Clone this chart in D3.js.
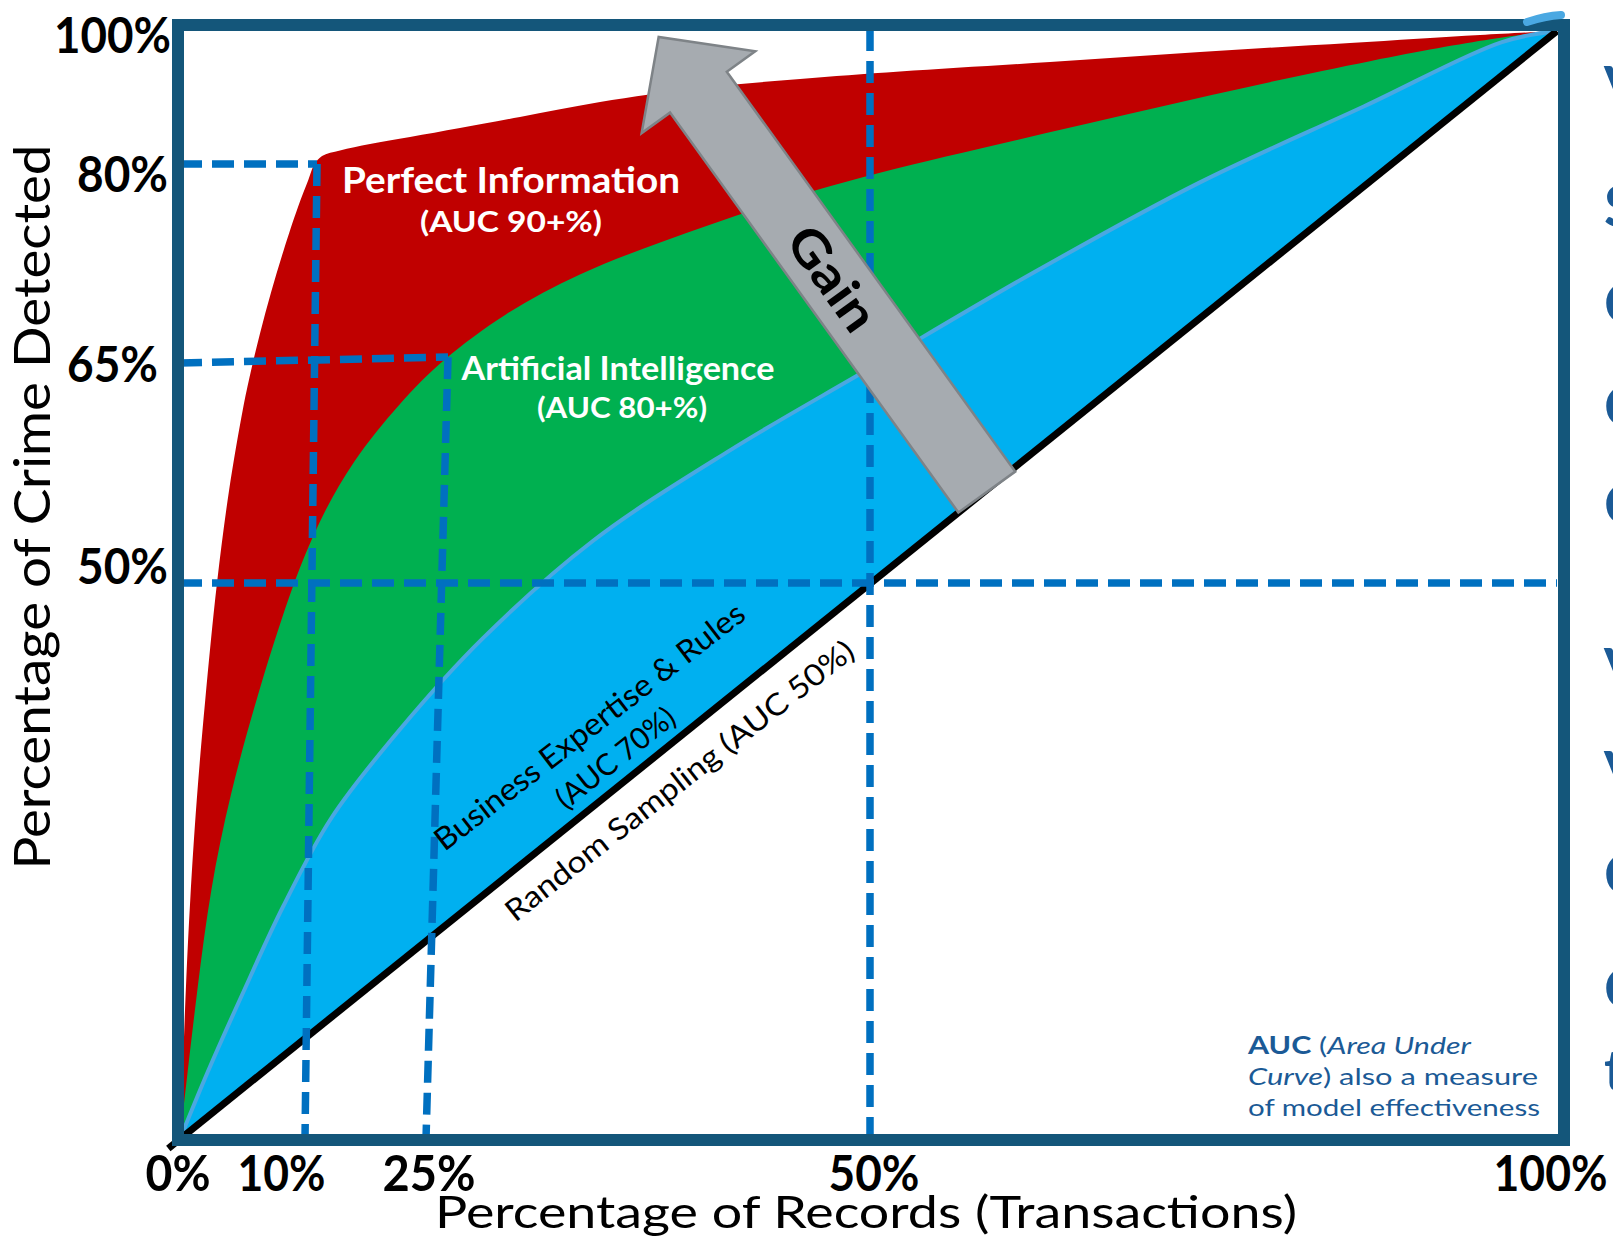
<!DOCTYPE html>
<html>
<head>
<meta charset="utf-8">
<script src="https://cdn.jsdelivr.net/npm/d3@7"></script>
<style>
  html, body { margin: 0; padding: 0; background: #ffffff; }
  svg { display: block; }
  text { font-family: Lato, "Noto Sans", sans-serif; }
</style>
</head>
<body>
<svg id="chart" width="1613" height="1239"></svg>
<script>
// ---------------------------------------------------------------
// Data (all values in percent)
// ---------------------------------------------------------------
const xTicks = [0, 10, 25, 50, 100];   // share of records reviewed
const yTicks = [50, 65, 80, 100];      // share of crime detected

// Cumulative gain curves: [records %, crime detected %]
const perfectInformation = [
  [0, 0], [0.25, 7.1], [0.5, 14.3], [0.82, 21.49], [1.34, 30.49], [2.02, 39.48],
  [2.96, 50], [3.93, 56.34], [5.02, 61.8], [5.64, 64.32], [6.41, 67.26],
  [7.27, 70.28], [8.3, 73.52], [9.44, 76.76], [10.41, 78.79], [11.12, 79.92],
  [12.11, 81.2], [14.34, 82.03], [18.06, 83.01], [23.02, 84.06], [26.91, 85.41],
  [30.29, 87.07], [34.8, 89.32], [40.43, 91.43], [46.06, 92.78], [52.18, 93.91],
  [63.1, 95.34], [74.02, 96.84], [84.93, 98.2], [94.4, 99.4], [100, 100]
];
const artificialIntelligence = [
  [0, 0], [0.55, 5.48], [1.43, 13.95], [2.42, 22.42], [3.97, 30.89], [6.17, 39.86],
  [8.82, 49.33], [11.57, 54.09], [15.84, 58.32], [21.81, 62.33], [25.88, 65.22],
  [29.37, 68.73], [33.63, 71.82], [38.29, 74.16], [43.71, 76.74], [49.92, 79.25],
  [62.92, 84.66], [74.95, 90.5], [86.97, 95.83], [95.99, 99.17], [100, 100]
];
const businessRules = [
  [0, 0], [2.2, 5.98], [4.96, 12.95], [8.26, 20.93], [13.29, 28.89],
  [21.81, 36.87], [28.21, 45.04], [34.41, 52.88], [42.16, 59.08],
  [49.92, 64.59], [61.91, 71.82], [73.94, 78.58], [85.97, 88.68],
  [95.99, 98.33], [100, 100]
];
const randomSampling = [[0, 0], [100, 100]];

// Dashed read-off lines: [records %, crime %] end points
const cutoffLines = [
  { from: [0, 80],        to: [11.49, 80] },
  { from: [11.49, 80],    to: [10, 0] },
  { from: [0, 65],        to: [26.24, 65.45] },
  { from: [26.24, 65.45], to: [25, 0] },
  { from: [0, 50],        to: [100, 50] },
  { from: [50, 0],        to: [50, 100] }
];

// "Gain" arrow, tail to tip
const gainArrow = { from: [58.5, 56.2], to: [38.1, 99.1] };

// Text content
const regionLabels = [
  { key: "perfect", lines: ["Perfect Information", "(AUC 90+%)"] },
  { key: "ai",      lines: ["Artificial Intelligence", "(AUC 80+%)"] }
];
const businessLabel = ["Business Expertise & Rules", "(AUC 70%)"];
const randomLabel = "Random Sampling (AUC 50%)";
const gainLabel = "Gain";
const xTitle = "Percentage of Records (Transactions)";
const yTitle = "Percentage of Crime Detected";
const sideLetters = ["V", "S", "C", "C", "C", "V", "V", "C", "C", "t"];

// ---------------------------------------------------------------
// Layout and style
// ---------------------------------------------------------------
const xStops = [180, 305, 426, 870, 1557];       // pixel stops for xTicks
const yStops = [1139, 583, 363, 164, 31];        // pixel stops for 0 + yTicks
const frame = { left: 178, top: 25, right: 1564, bottom: 1140 };
const colors = {
  frame: "#14567A", red: "#C00000", green: "#00B050", blue: "#00B0F0",
  blueEdge: "#4AA8E2", guide: "#0070C0", arrowFill: "#A6ABB0",
  arrowStroke: "#7E8387", note: "#1B5A96"
};
const xLabelStyle = {
  baseline: 1191,
  dx: { 0: -2.5, 10: -24, 25: 2.5, 50: 3.5, 100: -7 },
  len: { 0: 65, 10: 88, 25: 93, 50: 91, 100: 114 }
};
const yLabelStyle = {
  right: { 100: 171, 80: 168, 65: 158, 50: 168 },
  dy:    { 100: 21, 80: 27, 65: 18, 50: 0 },
  len:   { 100: 117, 80: 91, 65: 91, 50: 91 }
};

// ---------------------------------------------------------------
// Scales (piecewise linear so every labelled stop sits on its guide)
// ---------------------------------------------------------------
const x = d3.scaleLinear().domain(xTicks).range(xStops);
const y = d3.scaleLinear().domain([0, ...yTicks]).range(yStops);

const svg = d3.select("#chart");
svg.append("rect").attr("width", 1613).attr("height", 1239).attr("fill", "#fff");

const lineWith = curve => d3.line()
  .x(d => x(d[0]))
  .y(d => y(d[1]))
  .curve(curve);
const throughPoints = lineWith(d3.curveCatmullRom.alpha(0.5));
const smoothed = lineWith(d3.curveBasis);

// Filled regions: each curve closed back along the straight random-sampling diagonal
const regions = [
  { data: perfectInformation, fill: colors.red, gen: throughPoints },
  { data: artificialIntelligence, fill: colors.green, gen: smoothed },
  { data: businessRules, fill: colors.blue, gen: throughPoints }
];
svg.append("g").selectAll("path")
  .data(regions)
  .join("path")
  .attr("d", d => d.gen(d.data) + "Z")
  .attr("fill", d => d.fill);

// Light edge on the business-rules curve
svg.append("path")
  .attr("d", throughPoints(businessRules))
  .attr("fill", "none")
  .attr("stroke", colors.blueEdge)
  .attr("stroke-width", 4);

// Random sampling diagonal (slightly overrunning the origin corner)
const diag = randomSampling.map(d => [x(d[0]), y(d[1])]);
{
  const dx = diag[1][0] - diag[0][0], dy = diag[1][1] - diag[0][1];
  const L = Math.hypot(dx, dy);
  diag[0] = [diag[0][0] - dx / L * 15, diag[0][1] - dy / L * 15];
}
svg.append("path")
  .attr("d", d3.line()(diag))
  .attr("stroke", "#000")
  .attr("stroke-width", 7)
  .attr("fill", "none");

// Dashed read-off lines
svg.append("g").selectAll("line")
  .data(cutoffLines)
  .join("line")
  .attr("x1", d => x(d.from[0])).attr("y1", d => y(d.from[1]))
  .attr("x2", d => x(d.to[0])).attr("y2", d => y(d.to[1]))
  .attr("stroke", colors.guide)
  .attr("stroke-width", 7.5)
  .attr("stroke-dasharray", "22 10");

// Plot frame
svg.append("rect")
  .attr("x", frame.left).attr("y", frame.top)
  .attr("width", frame.right - frame.left)
  .attr("height", frame.bottom - frame.top)
  .attr("fill", "none")
  .attr("stroke", colors.frame)
  .attr("stroke-width", 12);

// Brush-like overrun of the curve edge past the top-right corner
{
  const cx = x(100), cy = y(100);
  svg.append("path")
    .attr("d", `M${cx - 30},${cy - 9}Q${cx - 12},${cy - 15} ${cx + 4},${cy - 16}`)
    .attr("fill", "none")
    .attr("stroke", colors.blueEdge)
    .attr("stroke-width", 8)
    .attr("stroke-linecap", "round");
}

// Gain arrow
const tail = [x(gainArrow.from[0]), y(gainArrow.from[1])];
const tip = [x(gainArrow.to[0]), y(gainArrow.to[1])];
function arrowPath(p0, p1, shaftHalf, headHalf, headLen) {
  const dx = p1[0] - p0[0], dy = p1[1] - p0[1], L = Math.hypot(dx, dy);
  const ux = dx / L, uy = dy / L, nx = -uy, ny = ux;
  const b = [p1[0] - ux * headLen, p1[1] - uy * headLen];
  const pts = [
    [p0[0] + nx * shaftHalf, p0[1] + ny * shaftHalf],
    [b[0] + nx * shaftHalf, b[1] + ny * shaftHalf],
    [b[0] + nx * headHalf, b[1] + ny * headHalf],
    p1,
    [b[0] - nx * headHalf, b[1] - ny * headHalf],
    [b[0] - nx * shaftHalf, b[1] - ny * shaftHalf],
    [p0[0] - nx * shaftHalf, p0[1] - ny * shaftHalf]
  ];
  return "M" + pts.map(p => p.join(",")).join("L") + "Z";
}
svg.append("path")
  .attr("d", arrowPath(tail, tip, 35, 70, 68))
  .attr("fill", colors.arrowFill)
  .attr("stroke", colors.arrowStroke)
  .attr("stroke-width", 2.5)
  .attr("stroke-linejoin", "miter");

{
  const t = 0.53;
  const gx = tip[0] + (tail[0] - tip[0]) * t;
  const gy = tip[1] + (tail[1] - tip[1]) * t;
  const ang = Math.atan2(tail[1] - tip[1], tail[0] - tip[0]) * 180 / Math.PI;
  svg.append("text")
    .attr("transform", `translate(${gx},${gy}) rotate(${ang})`)
    .attr("text-anchor", "middle")
    .attr("dy", "0.36em")
    .attr("font-size", 50)
    .attr("font-weight", 700)
    .attr("fill", "#000")
    .attr("textLength", 117)
    .attr("lengthAdjust", "spacingAndGlyphs")
    .text(gainLabel);
}

// Region labels
const regionLayout = {
  perfect: [
    { cx: 511, base: 193, size: 36, len: 338 },
    { cx: 511, base: 232, size: 29, len: 182 }
  ],
  ai: [
    { cx: 618, base: 380, size: 32, len: 313 },
    { cx: 622, base: 418, size: 29, len: 170 }
  ]
};
regionLabels.forEach(r => {
  r.lines.forEach((line, i) => {
    const L = regionLayout[r.key][i];
    svg.append("text")
      .attr("x", L.cx).attr("y", L.base)
      .attr("text-anchor", "middle")
      .attr("font-size", L.size)
      .attr("font-weight", 700)
      .attr("fill", "#fff")
      .attr("textLength", L.len)
      .attr("lengthAdjust", "spacingAndGlyphs")
      .text(line);
  });
});

// Diagonal labels
const slantLayout = [
  { text: businessLabel[0], cx: 596, cy: 735, ang: -37.7, size: 31, len: 383 },
  { text: businessLabel[1], cx: 622, cy: 766, ang: -38.5, size: 30, len: 143 },
  { text: randomLabel,      cx: 686, cy: 789, ang: -38.1, size: 30, len: 434 }
];
svg.append("g").selectAll("text")
  .data(slantLayout)
  .join("text")
  .attr("transform", d => `translate(${d.cx},${d.cy}) rotate(${d.ang})`)
  .attr("text-anchor", "middle")
  .attr("font-size", d => d.size)
  .attr("font-weight", 400)
  .attr("fill", "#000")
  .attr("textLength", d => d.len)
  .attr("lengthAdjust", "spacingAndGlyphs")
  .text(d => d.text);

// AUC note
const note = svg.append("g").attr("fill", colors.note).attr("font-size", 24);
{
  const t1 = note.append("text").attr("x", 1248).attr("y", 1054)
    .attr("textLength", 223).attr("lengthAdjust", "spacingAndGlyphs");
  t1.append("tspan").attr("font-weight", 700).text("AUC");
  t1.append("tspan").text(" (");
  t1.append("tspan").attr("font-style", "italic").text("Area Under");
  const t2 = note.append("text").attr("x", 1248).attr("y", 1085)
    .attr("textLength", 290).attr("lengthAdjust", "spacingAndGlyphs");
  t2.append("tspan").attr("font-style", "italic").text("Curve");
  t2.append("tspan").text(") also a measure");
  note.append("text").attr("x", 1248).attr("y", 1116)
    .attr("textLength", 292).attr("lengthAdjust", "spacingAndGlyphs")
    .text("of model effectiveness");
}

// Axes (tick labels only)
const xAxisG = svg.append("g")
  .call(d3.axisBottom(x).tickValues(xTicks).tickFormat(d => d + "%").tickSize(0));
xAxisG.select(".domain").remove();
xAxisG.attr("font-family", null).attr("font-size", null);
xAxisG.selectAll(".tick text")
  .attr("y", xLabelStyle.baseline)
  .attr("dy", null)
  .attr("x", d => xLabelStyle.dx[d])
  .attr("text-anchor", "middle")
  .attr("font-size", 50)
  .attr("font-weight", 700)
  .attr("fill", "#000")
  .attr("textLength", d => xLabelStyle.len[d])
  .attr("lengthAdjust", "spacingAndGlyphs");

const yAxisG = svg.append("g")
  .call(d3.axisLeft(y).tickValues(yTicks).tickFormat(d => d + "%").tickSize(0));
yAxisG.select(".domain").remove();
yAxisG.attr("font-family", null).attr("font-size", null);
yAxisG.selectAll(".tick text")
  .attr("x", d => yLabelStyle.right[d])
  .attr("y", d => yLabelStyle.dy[d])
  .attr("dy", null)
  .attr("text-anchor", "end")
  .attr("font-size", 50)
  .attr("font-weight", 700)
  .attr("fill", "#000")
  .attr("textLength", d => yLabelStyle.len[d])
  .attr("lengthAdjust", "spacingAndGlyphs");

// Axis titles
svg.append("text")
  .attr("x", 866).attr("y", 1228)
  .attr("text-anchor", "middle")
  .attr("font-size", 45)
  .attr("fill", "#000")
  .attr("textLength", 862)
  .attr("lengthAdjust", "spacingAndGlyphs")
  .text(xTitle);

svg.append("text")
  .attr("transform", "translate(50,507) rotate(-90)")
  .attr("text-anchor", "middle")
  .attr("font-size", 51)
  .attr("fill", "#000")
  .attr("textLength", 725)
  .attr("lengthAdjust", "spacingAndGlyphs")
  .text(yTitle);

// Start of the neighbouring text column at the right edge
const sideY = [87, 206, 303, 406, 504, 669, 772, 874, 988, 1070];
svg.append("g").selectAll("text")
  .data(sideLetters)
  .join("text")
  .attr("x", 1604)
  .attr("y", (d, i) => sideY[i])
  .attr("dy", "0.36em")
  .attr("font-size", 58)
  .attr("font-weight", 700)
  .attr("fill", colors.note)
  .text(d => d);
</script>
</body>
</html>
